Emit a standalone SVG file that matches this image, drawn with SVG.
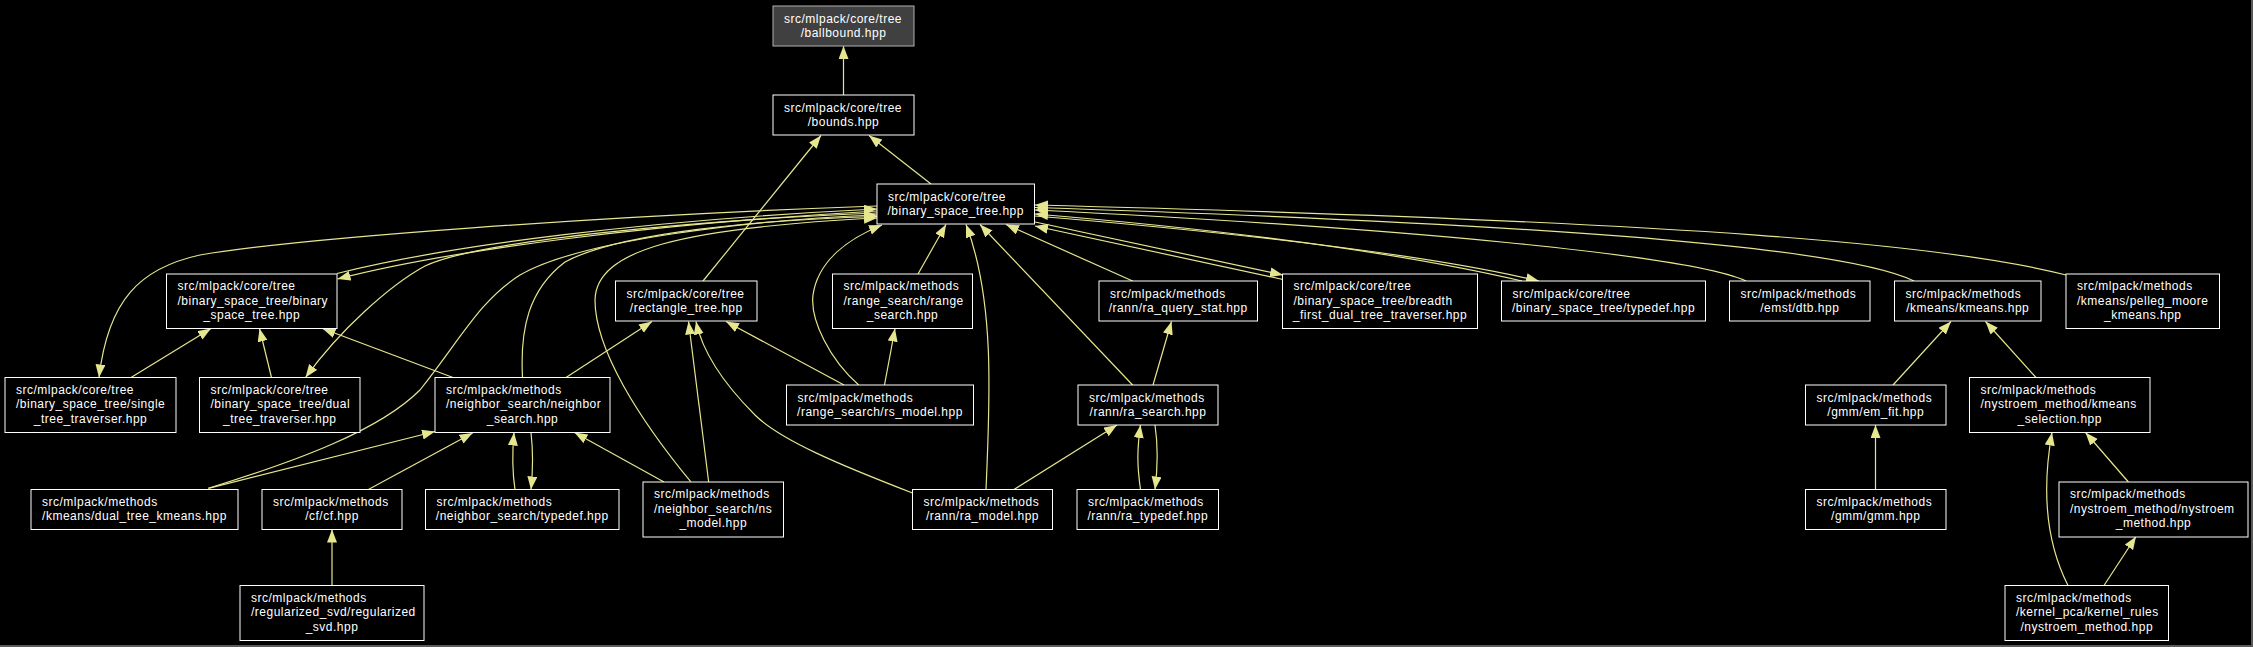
<svg xmlns="http://www.w3.org/2000/svg" width="2253" height="647" viewBox="0 0 2253 647">
<defs>
<style>
.bg{fill:#000}
.node rect{fill:#000;stroke:#fff;stroke-width:1}
.node rect.root{fill:#404040;stroke:#b0b0b0}
.node text{font-family:"Liberation Sans",Arial,sans-serif;font-size:12px;letter-spacing:0.5px;fill:#fff}
.node text.c{text-anchor:middle}
.edges path{fill:none;stroke:#e6e68f;stroke-width:1.2;marker-end:url(#ah)}
.frame{stroke:#5a5a5a;stroke-width:2}
</style>
<marker id="ah" markerUnits="userSpaceOnUse" markerWidth="14" markerHeight="11" refX="13" refY="5" orient="auto"><path d="M0,0 L13,5 L0,10 z" fill="#e6e68f" stroke="none"/></marker>
</defs>
<rect class="bg" x="0" y="0" width="2253" height="647"/>
<g id="edges" class="edges">
<path d="M843.5,95 L843.5,46"/>
<path d="M931,184 L869,135.5"/>
<path d="M703,281 L821,135.5"/>
<path d="M337,273.5 C450,245 650,220 877,209"/>
<path d="M877,211 C650,224 450,250 337.5,279"/>
<path d="M877,206 C600,216 300,238 200,255 C140,268 108,300 99,377.5"/>
<path d="M877,213 C700,220 480,240 425,266 C390,285 340,330 305.5,377.5"/>
<path d="M1035,222 L1283,275"/>
<path d="M1283,279.5 L1035,226"/>
<path d="M1035,216 C1300,238 1450,260 1539,281"/>
<path d="M1522,281 C1440,262 1300,236 1035,214"/>
<path d="M1746,281 C1690,255 1400,228 1035,210"/>
<path d="M1914,281 C1850,250 1600,226 1035,207.5"/>
<path d="M2066,275 C1950,245 1700,222 1035,205"/>
<path d="M208.4,488.3 C300,460 380,430 420,390 C460,340 480,300 520,275 C580,240 750,220 877,215"/>
<path d="M522.5,377.5 C520,330 528,290 565,262 C620,232 760,220 877,216.5"/>
<path d="M690.7,481.7 C640,420 595,350 595,300 C596,250 680,228 877,218"/>
<path d="M858.8,385 C830,360 810,320 813,295 C818,260 850,238 882,225"/>
<path d="M918,274 L946,224.5"/>
<path d="M986,489.5 C990,400 995,300 966,224.5"/>
<path d="M1132.6,385 L980,224.5"/>
<path d="M1132.6,281 L1006,224.5"/>
<path d="M131,377.5 L211,328.5"/>
<path d="M271.5,377.5 L259.5,328.5"/>
<path d="M453,377.5 L322.5,328.5"/>
<path d="M566,377.5 L652,321.5"/>
<path d="M708.7,482 L688.5,321.5"/>
<path d="M912.5,493 C840,465 780,440 755,415 C720,380 702,350 696,321.5"/>
<path d="M844,385 L726,321.5"/>
<path d="M208.4,488.3 L435,431.5"/>
<path d="M368.4,489.5 L472.6,433"/>
<path d="M515,489.5 C512,470 512,455 514,432.5"/>
<path d="M531,432.5 C533,450 533,470 531,489.5"/>
<path d="M664,482 L574.5,432.5"/>
<path d="M332,585.5 L332,529.5"/>
<path d="M884.5,385 L895,328.5"/>
<path d="M1153,385 L1171.5,321.5"/>
<path d="M1014,489.5 L1117,425"/>
<path d="M1140.5,489.5 C1137,465 1137,450 1140.5,425"/>
<path d="M1155,425 C1158,445 1158,465 1155,489.5"/>
<path d="M1893,385 L1951,321.5"/>
<path d="M2036,377.5 L1985.5,321.5"/>
<path d="M1875.5,489.5 L1875.5,425"/>
<path d="M2068,585.5 C2050,550 2040,500 2052,432.5"/>
<path d="M2128.4,482 L2085.5,432.5"/>
<path d="M2104,585.5 L2136,536.5"/>
</g>
<g id="n_ballbound" class="node"><rect class="root" x="773" y="6" width="141" height="40"/><text x="784" y="22.7">src/mlpack/core/tree</text><text class="c" x="843.5" y="36.7">/ballbound.hpp</text></g>
<g id="n_bounds" class="node"><rect x="773" y="95" width="141" height="40"/><text x="784" y="111.7">src/mlpack/core/tree</text><text class="c" x="843.5" y="125.7">/bounds.hpp</text></g>
<g id="n_bst" class="node"><rect x="877" y="184" width="157.5" height="40"/><text x="888" y="200.7">src/mlpack/core/tree</text><text class="c" x="955.75" y="214.7">/binary_space_tree.hpp</text></g>
<g id="n_bst_binary" class="node"><rect x="166.5" y="274" width="170.5" height="54.5"/><text x="177.5" y="290.3">src/mlpack/core/tree</text><text x="177.5" y="304.8">/binary_space_tree/binary</text><text class="c" x="251.75" y="319.3">_space_tree.hpp</text></g>
<g id="n_rectangle_tree" class="node"><rect x="615.5" y="281" width="141.5" height="40"/><text x="626.5" y="297.7">src/mlpack/core/tree</text><text class="c" x="686.25" y="311.7">/rectangle_tree.hpp</text></g>
<g id="n_range_search" class="node"><rect x="832.5" y="274" width="140" height="54.5"/><text x="843.5" y="290.3">src/mlpack/methods</text><text x="843.5" y="304.8">/range_search/range</text><text class="c" x="902.5" y="319.3">_search.hpp</text></g>
<g id="n_ra_query_stat" class="node"><rect x="1099" y="281" width="158.5" height="40"/><text x="1110" y="297.7">src/mlpack/methods</text><text class="c" x="1178.25" y="311.7">/rann/ra_query_stat.hpp</text></g>
<g id="n_breadth_first" class="node"><rect x="1282.5" y="274" width="195" height="54.5"/><text x="1293.5" y="290.3">src/mlpack/core/tree</text><text x="1293.5" y="304.8">/binary_space_tree/breadth</text><text class="c" x="1380" y="319.3">_first_dual_tree_traverser.hpp</text></g>
<g id="n_bst_typedef" class="node"><rect x="1501.5" y="281" width="204" height="40"/><text x="1512.5" y="297.7">src/mlpack/core/tree</text><text class="c" x="1603.5" y="311.7">/binary_space_tree/typedef.hpp</text></g>
<g id="n_dtb" class="node"><rect x="1729.5" y="281" width="140.5" height="40"/><text x="1740.5" y="297.7">src/mlpack/methods</text><text class="c" x="1799.75" y="311.7">/emst/dtb.hpp</text></g>
<g id="n_kmeans" class="node"><rect x="1894.5" y="281" width="146.5" height="40"/><text x="1905.5" y="297.7">src/mlpack/methods</text><text class="c" x="1967.75" y="311.7">/kmeans/kmeans.hpp</text></g>
<g id="n_pelleg_moore" class="node"><rect x="2066" y="274" width="153.5" height="54.5"/><text x="2077" y="290.3">src/mlpack/methods</text><text x="2077" y="304.8">/kmeans/pelleg_moore</text><text class="c" x="2142.75" y="319.3">_kmeans.hpp</text></g>
<g id="n_single_tree" class="node"><rect x="5" y="377.5" width="171" height="55"/><text x="16" y="393.8">src/mlpack/core/tree</text><text x="16" y="408.3">/binary_space_tree/single</text><text class="c" x="90.5" y="422.8">_tree_traverser.hpp</text></g>
<g id="n_dual_tree" class="node"><rect x="199.5" y="377.5" width="160.5" height="55"/><text x="210.5" y="393.8">src/mlpack/core/tree</text><text x="210.5" y="408.3">/binary_space_tree/dual</text><text class="c" x="279.75" y="422.8">_tree_traverser.hpp</text></g>
<g id="n_neighbor_search" class="node"><rect x="435" y="377.5" width="175" height="55"/><text x="446" y="393.8">src/mlpack/methods</text><text x="446" y="408.3">/neighbor_search/neighbor</text><text class="c" x="522.5" y="422.8">_search.hpp</text></g>
<g id="n_rs_model" class="node"><rect x="786.5" y="385" width="187" height="40"/><text x="797.5" y="401.7">src/mlpack/methods</text><text class="c" x="880" y="415.7">/range_search/rs_model.hpp</text></g>
<g id="n_ra_search" class="node"><rect x="1078" y="385" width="140" height="40"/><text x="1089" y="401.7">src/mlpack/methods</text><text class="c" x="1148" y="415.7">/rann/ra_search.hpp</text></g>
<g id="n_em_fit" class="node"><rect x="1805.5" y="385" width="140.5" height="40"/><text x="1816.5" y="401.7">src/mlpack/methods</text><text class="c" x="1875.75" y="415.7">/gmm/em_fit.hpp</text></g>
<g id="n_kmeans_selection" class="node"><rect x="1969.5" y="377.5" width="180.5" height="55"/><text x="1980.5" y="393.8">src/mlpack/methods</text><text x="1980.5" y="408.3">/nystroem_method/kmeans</text><text class="c" x="2059.75" y="422.8">_selection.hpp</text></g>
<g id="n_dual_tree_kmeans" class="node"><rect x="31" y="489.5" width="207" height="40"/><text x="42" y="506.2">src/mlpack/methods</text><text class="c" x="134.5" y="520.2">/kmeans/dual_tree_kmeans.hpp</text></g>
<g id="n_cf" class="node"><rect x="262" y="489.5" width="140" height="40"/><text x="273" y="506.2">src/mlpack/methods</text><text class="c" x="332" y="520.2">/cf/cf.hpp</text></g>
<g id="n_ns_typedef" class="node"><rect x="425.5" y="489.5" width="193.5" height="40"/><text x="436.5" y="506.2">src/mlpack/methods</text><text class="c" x="522.25" y="520.2">/neighbor_search/typedef.hpp</text></g>
<g id="n_ns_model" class="node"><rect x="643" y="482" width="140.5" height="55"/><text x="654" y="498.3">src/mlpack/methods</text><text x="654" y="512.8">/neighbor_search/ns</text><text class="c" x="713.25" y="527.3">_model.hpp</text></g>
<g id="n_ra_model" class="node"><rect x="912.5" y="489.5" width="140" height="40"/><text x="923.5" y="506.2">src/mlpack/methods</text><text class="c" x="982.5" y="520.2">/rann/ra_model.hpp</text></g>
<g id="n_ra_typedef" class="node"><rect x="1077" y="489.5" width="141.5" height="40"/><text x="1088" y="506.2">src/mlpack/methods</text><text class="c" x="1147.75" y="520.2">/rann/ra_typedef.hpp</text></g>
<g id="n_gmm" class="node"><rect x="1805.5" y="489.5" width="140.5" height="40"/><text x="1816.5" y="506.2">src/mlpack/methods</text><text class="c" x="1875.75" y="520.2">/gmm/gmm.hpp</text></g>
<g id="n_nystroem_method" class="node"><rect x="2059" y="482" width="189" height="55"/><text x="2070" y="498.3">src/mlpack/methods</text><text x="2070" y="512.8">/nystroem_method/nystroem</text><text class="c" x="2153.5" y="527.3">_method.hpp</text></g>
<g id="n_regularized_svd" class="node"><rect x="240" y="585.5" width="184" height="55"/><text x="251" y="601.8">src/mlpack/methods</text><text x="251" y="616.3">/regularized_svd/regularized</text><text class="c" x="332" y="630.8">_svd.hpp</text></g>
<g id="n_kernel_rules" class="node"><rect x="2005" y="585.5" width="163.5" height="55"/><text x="2016" y="601.8">src/mlpack/methods</text><text x="2016" y="616.3">/kernel_pca/kernel_rules</text><text class="c" x="2086.75" y="630.8">/nystroem_method.hpp</text></g>
<line class="frame" x1="2252" y1="0" x2="2252" y2="647"/>
<line class="frame" x1="0" y1="646" x2="2253" y2="646"/>
</svg>
